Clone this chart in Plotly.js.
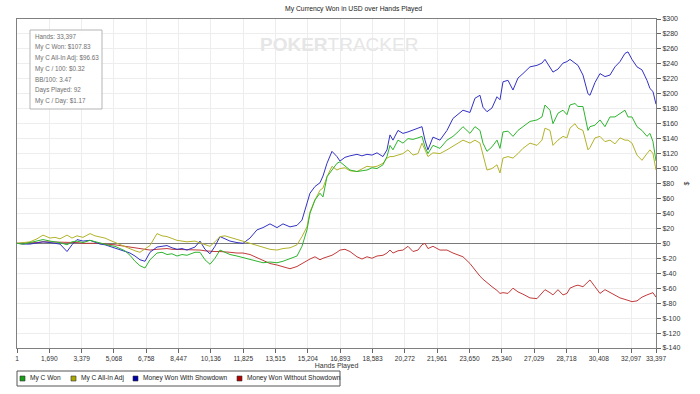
<!DOCTYPE html>
<html>
<head>
<meta charset="utf-8">
<script src="https://cdn.plot.ly/plotly-3.0.1.min.js"></script>
<style>html,body{margin:0;padding:0;background:#fff;}#chart{width:700px;height:394px;}</style>
</head>
<body>
<div id="chart"></div>
<script>
// ---- data ----
const hands = [1,315,680,1046,1360,1726,1987,2248,2614,2875,
3137,3450,3816,4077,4339,4600,4861,5122,5384,5645,
5906,6168,6429,6690,6951,7317,7579,7840,8101,8363,
8624,8885,9303,9565,9826,10087,10348,10610,10871,11132,
11498,11812,12177,12543,12857,13223,13589,13902,14268,14634,
14895,15156,15313,15574,15836,15993,16202,16463,16724,16881,
17142,17403,17769,18030,18292,18553,18815,19128,19337,19494,
19651,19912,20173,20435,20696,20957,21166,21323,21480,21741,
22107,22473,22787,23048,23309,23675,23936,24197,24354,24563,
24825,25086,25243,25400,25661,25922,26183,26445,26810,27176,
27437,27594,27856,28012,28274,28535,28744,28901,29162,29319,
29580,29842,29946,30208,30469,30730,30991,31253,31514,31775,
31932,32141,32403,32664,32925,33082,33239,33397];

const myCWon = [0,-1,1,3,5,3,2,1,-2,2,
3,1,4,2,1,-1,-3,-4,-7,-10,
-16,-24,-30,-33,-22,-13,-12,-15,-14,-17,
-15,-16,-12,-12,-22,-28,-20,-9,-12,-15,
-17,-19,-21,-24,-26,-25,-26,-24,-20,-17,
-4,18,40,58,67,62,89,98,107,109,
103,98,96,97,98,101,100,105,116,131,
125,138,134,140,139,141,143,129,120,131,
127,138,143,149,156,147,156,151,134,123,
129,138,127,149,150,143,151,156,163,165,
169,185,178,160,174,178,172,185,187,183,
183,151,156,158,165,156,169,169,174,178,
169,169,156,151,143,147,136,110];

const myCAllInAdj = [0,1,2,6,11,7,8,6,11,7,
10,8,13,10,9,7,4,1,-2,-5,
-8,-10,-12,-8,-3,13,10,9,6,4,
3,2,3,1,-2,-4,2,9,10,8,
5,2,0,-3,-6,-8,-9,-7,-6,-2,
9,22,42,58,71,74,89,103,98,100,
101,97,96,99,103,102,103,107,114,116,
116,118,120,125,118,120,134,125,116,121,
120,125,130,133,138,134,138,134,120,98,
100,105,94,114,116,114,120,127,134,131,
138,154,151,131,138,143,141,154,160,154,
151,125,128,141,143,136,138,133,141,138,
138,134,118,111,120,125,120,98];

const wonWithShowdown = [0,-1,-1,1,2,1,0,-1,-11,-2,
5,3,4,1,-1,-2,-4,-6,-8,-10,
-13,-17,-22,-24,-12,-5,-4,-3,-6,-8,
-7,-9,-5,3,-8,-14,-4,9,6,3,
1,0,7,18,21,26,21,26,22,24,
31,54,67,76,81,90,107,123,116,110,
115,117,119,117,119,118,121,116,125,145,
138,151,147,149,151,154,156,138,125,142,
138,151,167,172,178,175,194,198,182,176,
181,196,192,216,218,205,221,227,236,238,
241,246,236,229,233,241,243,246,241,238,
225,200,198,215,227,223,225,236,243,254,
256,246,236,232,218,207,203,186];

const wonWithoutShowdown = [0,0,1,1,2,2,1,1,2,1,
1,0,0,1,0,-1,-1,-2,-3,-4,
-6,-7,-8,-9,-9,-8,-7,-7,-8,-8,
-9,-9,-8,-9,-10,-11,-11,-11,-12,-12,
-13,-13,-15,-19,-23,-27,-29,-31,-34,-31,
-27,-24,-21,-18,-22,-20,-18,-16,-12,-9,
-8,-11,-18,-21,-18,-20,-17,-16,-13,-9,
-13,-10,-9,-4,-11,-9,-2,0,-7,-4,
-9,-9,-13,-16,-18,-27,-36,-44,-48,-53,
-58,-63,-67,-66,-67,-60,-65,-68,-73,-74,
-67,-62,-66,-69,-62,-69,-67,-60,-57,-56,
-58,-52,-49,-58,-67,-62,-66,-70,-73,-75,
-76,-78,-77,-72,-69,-67,-66,-72];

const seriesNames = ['My C Won', 'My C All-In Adj', 'Money Won With Showdown', 'Money Won Without Showdown'];
const xTickVals = [1,1690,3379,5068,6758,8447,10136,11825,13515,15204,16893,18583,20272,21961,23650,25340,27029,28718,30408,32097,33397];
const xTickLabels = ['1','1,690','3,379','5,068','6,758','8,447','10,136','11,825','13,515','15,204','16,893','18,583','20,272','21,961','23,650','25,340','27,029','28,718','30,408','32,097','33,397'];
const yTickVals = [300,280,260,240,220,200,180,160,140,120,100,80,60,40,20,0,-20,-40,-60,-80,-100,-120,-140];
const yTickLabels = yTickVals.map(v => '$' + v);
const statLines = ['Hands: 33,397','My C Won: $107.83','My C All-In Adj: $96.63','My C / 100: $0.32','BB/100: 3.47','Days Played: 92','My C / Day: $1.17'];

// ---- styles ----
const lineColors = ['#2db52d', '#b3b32a', '#3232c4', '#c23a3a'];
const swatchColors = ['#18a018', '#a8a800', '#0000a8', '#b00000'];
const W = 700, H = 394, M = {l:17, r:44, t:19, b:46};
const PW = W - M.l - M.r, PH = H - M.t - M.b;
const px2x = p => (p - M.l) / PW;
const px2y = p => (H - M.b - p) / PH;

const seriesValues = [myCWon, myCAllInAdj, wonWithShowdown, wonWithoutShowdown];
const traces = seriesValues.map((vals, i) => ({
  type: 'scatter', mode: 'lines', name: seriesNames[i],
  x: hands, y: vals,
  line: {color: lineColors[i], width: 1},
  showlegend: false, hoverinfo: 'skip'
}));
// draw order: red, blue, yellow, green on top
const ordered = [traces[3], traces[2], traces[1], traces[0]];

const shapes = [];
const annotations = [];

// stats box
shapes.push({type:'rect', xref:'paper', yref:'paper', x0:px2x(30), x1:px2x(102), y0:px2y(109), y1:px2y(30),
  line:{color:'#b5b5b5', width:1}, fillcolor:'rgba(255,255,255,0.9)'});
statLines.forEach((t, i) => {
  annotations.push({xref:'paper', yref:'paper', x:px2x(33), y:px2y(36.7 + i*10.67), xanchor:'left', yanchor:'middle',
    text:t, showarrow:false, font:{size:6.3, color:'#707070'}});
});

// watermark
annotations.push({xref:'paper', yref:'paper', x:px2x(339), y:px2y(45), xanchor:'center', yanchor:'middle',
  text:'<b>POKER</b>TRACKER', showarrow:false, font:{size:19, color:'#e6e6e6', family:'Liberation Sans, Arial, sans-serif'}});

// legend box
shapes.push({type:'rect', xref:'paper', yref:'paper', x0:px2x(17), x1:px2x(340), y0:px2y(386), y1:px2y(371),
  line:{color:'#555', width:1}, fillcolor:'#fff'});
const legendX = [20, 71, 133, 237];
seriesNames.forEach((n, i) => {
  shapes.push({type:'rect', xref:'paper', yref:'paper', x0:px2x(legendX[i]), x1:px2x(legendX[i]+5), y0:px2y(381), y1:px2y(376),
    line:{color:'#333', width:0.6}, fillcolor:swatchColors[i]});
  annotations.push({xref:'paper', yref:'paper', x:px2x(legendX[i]+8), y:px2y(378.5), xanchor:'left', yanchor:'middle',
    text:n, showarrow:false, font:{size:6.6, color:'#222'}});
});

const layout = {
  width: W, height: H,
  margin: M,
  paper_bgcolor: '#fff', plot_bgcolor: '#fff',
  font: {family: 'Liberation Sans, Arial, sans-serif', color: '#333'},
  title: {text: 'My Currency Won in USD over Hands Played', font: {size: 6.8, color: '#222'},
    x: 0.505, xref: 'container', xanchor: 'center', y: 1 - 9/394, yref: 'container', yanchor: 'middle'},
  showlegend: false,
  xaxis: {
    range: [1, 33397], tickmode: 'array', tickvals: xTickVals, ticktext: xTickLabels,
    tickfont: {size: 6.6, color: '#333'}, ticks: 'outside', ticklen: 4, tickcolor: '#666',
    showgrid: true, gridcolor: '#ededed', gridwidth: 1, zeroline: false,
    showline: true, mirror: true, linecolor: '#808080', linewidth: 1,
    title: {text: 'Hands Played', font: {size: 7, color: '#333'}, standoff: 2}
  },
  yaxis: {
    side: 'right', range: [-140, 300], tickmode: 'array', tickvals: yTickVals, ticktext: yTickLabels,
    tickfont: {size: 7, color: '#333'}, ticks: 'outside', ticklen: 4, tickcolor: '#666',
    showgrid: true, gridcolor: '#ededed', gridwidth: 1,
    zeroline: true, zerolinecolor: '#7a7a7a', zerolinewidth: 1.5,
    showline: true, mirror: true, linecolor: '#808080', linewidth: 1,
    title: {text: '$', font: {size: 7, color: '#333'}, standoff: 4}
  },
  shapes: shapes,
  annotations: annotations
};

Plotly.newPlot('chart', ordered, layout, {displayModeBar: false, staticPlot: true});
</script>
</body>
</html>
